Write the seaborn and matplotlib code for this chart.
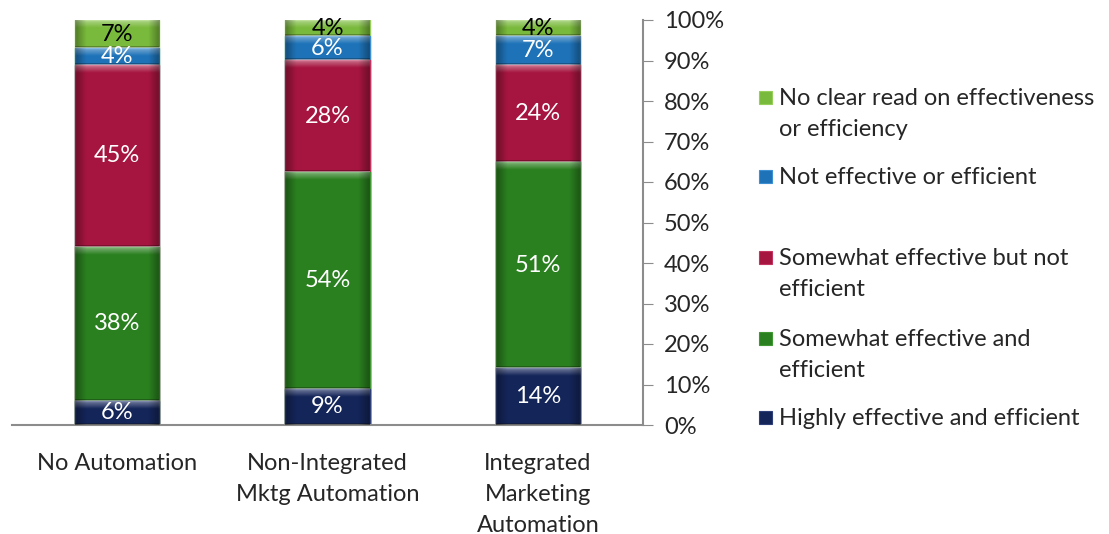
import numpy as np
import pandas as pd
import seaborn as sns
from matplotlib import pyplot as plt
from matplotlib.patches import Rectangle

categories = ["No Automation", "Non-Integrated\nMktg Automation", "Integrated\nMarketing\nAutomation"]
series = ["Highly effective and efficient", "Somewhat effective and\nefficient",
          "Somewhat effective but not\nefficient", "Not effective or efficient",
          "No clear read on effectiveness\nor efficiency"]
highly = [6, 9, 14]
somewhat_eff = [38, 54, 51]
somewhat_not = [45, 28, 24]
not_eff = [4, 6, 7]
no_read = [7, 4, 4]

colors = ["#142559", "#2A7F1F", "#A6153F", "#1E73B8", "#79B93B"]
edge_colors = ["#2E3F78", "#3F9633", "#C23460", "#3C8FD0", "#96CE5A"]
text_colors = ["white", "white", "white", "white", "black"]

sns.set_style("white")
plt.rcParams['font.family'] = ['Lato', 'DejaVu Sans']
FS = 17

values = np.array([highly, somewhat_eff, somewhat_not, not_eff, no_read], dtype=float)
shares = values / values.sum(axis=0) * 100
cum = np.cumsum(shares, axis=0)

fig = plt.figure(figsize=(11.09, 5.34), dpi=100)
ax = fig.add_axes([12 / 1109, 109 / 534, 631 / 1109, 405 / 534])

# stacked bars: draw the cumulative totals from the top segment down
layer_order = list(range(len(series) - 1, -1, -1))
for i in layer_order:
    df = pd.DataFrame({"cat": categories, "val": cum[i]})
    sns.barplot(data=df, x="cat", y="val", color=colors[i], width=0.4,
                edgecolor=edge_colors[i], linewidth=1.0, saturation=1, ax=ax)

# bevel look: light band on top of each segment, darker sides
v_prof = np.linspace(0.45, 0.0, 20)
h_prof = np.clip(np.abs(np.linspace(-1, 1, 40)) * 1.6 - 1.2, 0, None) * 0.8
for k, p in enumerate(ax.patches):
    i = layer_order[k // len(categories)]
    j = k % len(categories)
    x0, w, top = p.get_x(), p.get_width(), p.get_height()
    bot = top - shares[i][j]
    hi = np.ones((20, 1, 4))
    hi[:, 0, 3] = v_prof
    ax.imshow(hi, extent=(x0, x0 + w, top - 2.0, top), aspect="auto",
              interpolation="bilinear", zorder=3)
    sd = np.zeros((1, 40, 4))
    sd[0, :, 3] = h_prof
    ax.imshow(sd, extent=(x0, x0 + w, bot, top), aspect="auto",
              interpolation="bilinear", zorder=3)
    ax.add_patch(Rectangle((x0, bot), w, 0.5, facecolor="black", alpha=0.25,
                           linewidth=0, zorder=3))

for i in range(len(series)):
    for j in range(len(categories)):
        y = cum[i][j] - shares[i][j] / 2
        ax.text(j, y, f"{int(values[i][j])}%", ha="center", va="center",
                fontsize=FS, color=text_colors[i], zorder=5)

ax.set_xlim(-0.5, 2.5)
ax.set_ylim(0, 100)
ax.set_xlabel("")
ax.set_ylabel("")
ax.yaxis.tick_right()
ax.set_yticks(np.arange(0, 101, 10))
ax.set_yticklabels([f"{t}%" for t in range(0, 101, 10)], fontsize=FS)
ax.tick_params(axis="y", direction="out", length=7, color="#8C8C8C", pad=8)
ax.set_xticks([0, 1, 2])
ax.set_xticklabels(categories, fontsize=FS, linespacing=1.6)
ax.tick_params(axis="x", which="major", length=0, pad=20)
ax.set_xticks([-0.5, 0.5, 1.5, 2.5], minor=True)
ax.tick_params(axis="x", which="minor", direction="out", length=8, color="#8C8C8C")
for s in ["top", "left"]:
    ax.spines[s].set_visible(False)
for s in ["right", "bottom"]:
    ax.spines[s].set_color("#8C8C8C")
    ax.spines[s].set_linewidth(1.5)

# legend, top entry first
legend_rows = [(4, 97), (3, 176), (2, 257), (1, 338), (0, 417)]
for i, ypix in legend_rows:
    fig.add_artist(Rectangle((759 / 1109, 1 - (ypix + 7) / 534), 13 / 1109, 13 / 534,
                             transform=fig.transFigure, facecolor=colors[i],
                             edgecolor=edge_colors[i], linewidth=0.8))
    fig.text(779 / 1109, 1 - (ypix - 9) / 534, series[i], ha="left", va="top",
             fontsize=FS, linespacing=1.6)

fig.savefig("out.png", dpi=100)
